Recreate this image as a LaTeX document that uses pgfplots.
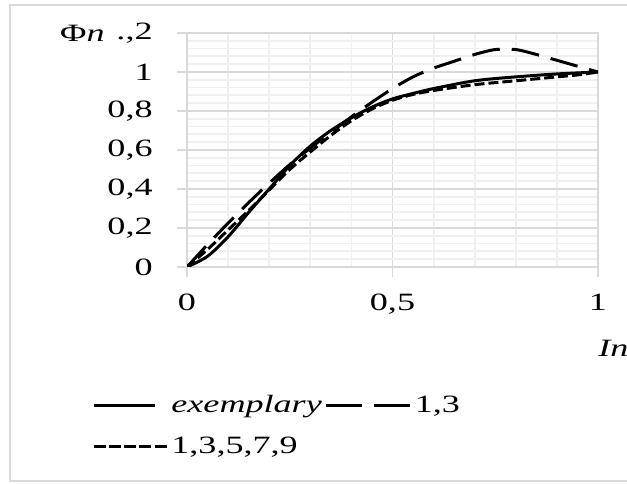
\documentclass[border=0pt]{standalone}
\usepackage{fontspec}
\setmainfont[FakeStretch=1.45]{Liberation Serif}
\usepackage{pgfplots}
\pgfplotsset{compat=1.18}
\definecolor{majgrid}{RGB}{217,217,217}
\definecolor{mingrid}{RGB}{240,240,240}
\pgfplotsset{
  legA/.style={legend image code/.code={\draw[##1] (0bp,0bp) -- (30.5bp,0bp);}},
  legB/.style={legend image code/.code={\draw[##1, dash pattern=on 18bp off 6bp] (0bp,0bp) -- (42bp,0bp);}},
  legC/.style={legend image code/.code={\draw[##1, dash pattern=on 6bp off 1.6bp] (0bp,0bp) -- (36.5bp,0bp);}},
}
\begin{document}
\begin{tikzpicture}[font=\fontsize{12.5}{15}\selectfont]
\useasboundingbox (0,0) rectangle (313.5bp,242bp);
\fill[white] (0,0) rectangle (313.5bp,242bp);
\draw[majgrid, line width=1bp] (330bp,1.5bp) -- (5bp,1.5bp) -- (5bp,239.5bp) -- (330bp,239.5bp);
\begin{axis}[
  at={(93.5bp,108.5bp)}, anchor=south west,
  width=205.5bp, height=117bp, scale only axis,
  xmin=0, xmax=1, ymin=0, ymax=1.2,
  xtick={0,0.5,1}, xticklabels={0,{0,5},1},
  ytick={0,0.2,0.4,0.6,0.8,1,1.2},
  yticklabels={0,{0,2},{0,4},{0,6},{0,8},1,{.,2}},
  minor xtick={0.1,0.2,0.3,0.4,0.6,0.7,0.8,0.9},
  minor ytick={0.04,0.08,0.12,0.16,0.24,0.28,0.32,0.36,0.44,0.48,0.52,0.56,0.64,0.68,0.72,0.76,0.84,0.88,0.92,0.96,1.04,1.08,1.12,1.16},
  grid=both,
  major grid style={majgrid, line width=0.9bp},
  minor grid style={mingrid, line width=0.9bp},
  axis line style={majgrid, line width=0.9bp},
  tick pos=left, tick align=outside,
  major tick length=5bp, minor tick length=0pt,
  tick style={majgrid, line width=0.9bp},
  xticklabel style={anchor=north, inner sep=0pt},
  yticklabel style={anchor=east, inner sep=0pt},
  xticklabel shift=8.5bp,
  yticklabel shift=12bp,
  xlabel={\textit{In}},
  every axis x label/.style={at={(axis description cs:1,0)}, anchor=west, inner sep=0pt, yshift=-40.5bp},
  ylabel={Φ\textit{n}},
  every axis y label/.style={at={(axis description cs:0,1)}, anchor=east, inner sep=0pt, xshift=-41bp},
  legend columns=2,
  legend cell align=left,
  legend style={at={(axis cs:0,0)}, anchor=north west, xshift=-47.5bp, yshift=-64bp,
    draw=none, fill=none, inner sep=0pt, nodes={inner sep=0pt},
    row sep=10.5bp,
    /tikz/every even column/.style={column sep=1.5bp},
    /tikz/every odd column/.style={column sep=1.5bp}},
]
\addplot[black, line width=1.5bp, smooth, legA]
coordinates {
(0,0) (0.05,0.055) (0.1,0.155) (0.15,0.28) (0.2,0.40) (0.25,0.52) (0.3,0.62)
(0.35,0.70) (0.4,0.765) (0.45,0.82) (0.5,0.862) (0.55,0.89) (0.6,0.915)
(0.7,0.955) (0.8,0.975) (0.9,0.99) (1,1)};
\addlegendentry{\textit{exemplary}}
\addplot[black, line width=1.5bp, smooth, dash pattern=on 14bp off 6bp, legB]
coordinates {
(0,0) (0.05,0.115) (0.1,0.225) (0.15,0.33) (0.2,0.43) (0.25,0.525) (0.3,0.61)
(0.35,0.69) (0.4,0.77) (0.45,0.845) (0.5,0.915) (0.55,0.975) (0.6,1.02)
(0.65,1.055) (0.7,1.09) (0.75,1.115) (0.8,1.115) (0.85,1.09) (0.9,1.06)
(0.95,1.03) (1,1)};
\addlegendentry{1,3}
\addplot[black, line width=1.5bp, smooth, dash pattern=on 5bp off 2bp, legC]
coordinates {
(0,0) (0.05,0.09) (0.1,0.19) (0.15,0.29) (0.2,0.395) (0.25,0.50) (0.3,0.59)
(0.35,0.675) (0.4,0.75) (0.45,0.81) (0.5,0.855) (0.55,0.885) (0.6,0.905)
(0.7,0.935) (0.8,0.955) (0.9,0.975) (0.95,0.985) (1,1)};
\addlegendentry{1,3,5,7,9}
\end{axis}
\end{tikzpicture}
\end{document}
